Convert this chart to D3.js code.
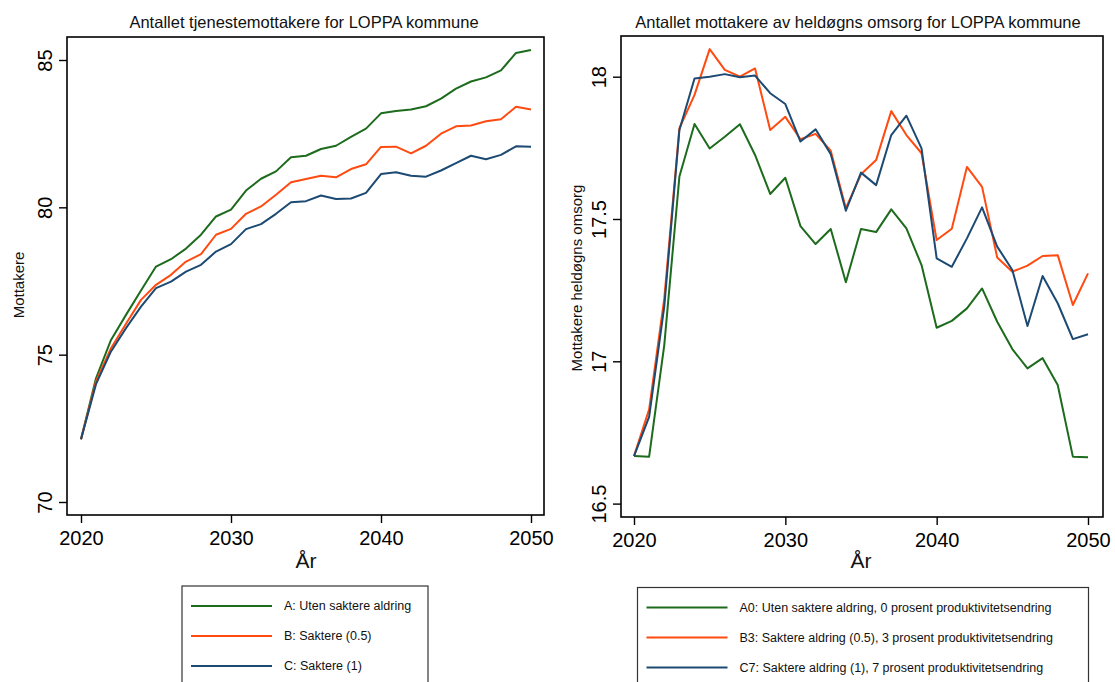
<!DOCTYPE html>
<html>
<head>
<meta charset="utf-8">
<script src="https://cdn.jsdelivr.net/npm/d3@7"></script>
<style>
  html, body { margin: 0; padding: 0; background: #fff; }
  svg { display: block; font-family: "Liberation Sans", Arial, Helvetica, sans-serif; }
</style>
</head>
<body>
<svg id="chart" width="1115" height="682"></svg>
<script>
// ---------- DATA ----------
const years = d3.range(2020, 2051);

const leftTitle = "Antallet tjenestemottakere for LOPPA kommune";
const rightTitle = "Antallet mottakere av heldøgns omsorg for LOPPA kommune";
const xTicks = [2020, 2030, 2040, 2050];
const leftYTicks = [70, 75, 80, 85];
const rightYTicks = [16.5, 17, 17.5, 18];
const rightYTickLabels = ["16.5", "17", "17.5", "18"];
const xLabel = "År";
const leftYLabel = "Mottakere";
const rightYLabel = "Mottakere heldøgns omsorg";

const leftNames = ["A: Uten saktere aldring", "B: Saktere (0.5)", "C: Saktere (1)"];
const rightNames = [
  "A0: Uten saktere aldring, 0 prosent produktivitetsendring",
  "B3: Saktere aldring (0.5), 3 prosent produktivitetsendring",
  "C7: Saktere aldring (1), 7 prosent produktivitetsendring"
];
const colors = ["#1d6b1d", "#ff4a10", "#1c4a72"];

// Left panel: tjenestemottakere
const seriesA = [72.13, 74.20, 75.50, 76.35, 77.18, 77.99, 78.24, 78.60, 79.07, 79.69, 79.92,
  80.57, 80.97, 81.22, 81.70, 81.75, 81.98, 82.09, 82.39, 82.67, 83.19,
  83.27, 83.32, 83.43, 83.69, 84.03, 84.27, 84.41, 84.65, 85.24, 85.34];
const seriesB = [72.13, 74.09, 75.22, 76.05, 76.86, 77.37, 77.71, 78.16, 78.41, 79.07, 79.27,
  79.78, 80.03, 80.43, 80.85, 80.96, 81.07, 81.02, 81.30, 81.46, 82.05,
  82.06, 81.83, 82.09, 82.50, 82.75, 82.78, 82.92, 82.99, 83.41, 83.32];
const seriesC = [72.13, 74.00, 75.11, 75.90, 76.63, 77.26, 77.48, 77.82, 78.05, 78.50, 78.75,
  79.26, 79.43, 79.78, 80.17, 80.21, 80.40, 80.28, 80.30, 80.49, 81.13,
  81.19, 81.07, 81.04, 81.25, 81.50, 81.75, 81.63, 81.78, 82.07, 82.06];

// Right panel: heldøgns omsorg
const seriesA0 = [16.667, 16.665, 17.057, 17.649, 17.834, 17.748, 17.789, 17.833, 17.725, 17.588, 17.645,
  17.475, 17.412, 17.465, 17.278, 17.465, 17.454, 17.534, 17.467, 17.338, 17.118,
  17.142, 17.186, 17.256, 17.139, 17.043, 16.975, 17.011, 16.917, 16.665, 16.663];
const seriesB3 = [16.667, 16.831, 17.220, 17.819, 17.936, 18.097, 18.024, 18.000, 18.029, 17.813, 17.859,
  17.780, 17.799, 17.740, 17.538, 17.657, 17.707, 17.879, 17.795, 17.731, 17.426,
  17.466, 17.683, 17.613, 17.365, 17.315, 17.336, 17.370, 17.373, 17.198, 17.309];
const seriesC7 = [16.667, 16.805, 17.192, 17.813, 17.994, 18.000, 18.009, 17.998, 18.004, 17.942, 17.904,
  17.772, 17.815, 17.728, 17.529, 17.663, 17.619, 17.795, 17.863, 17.748, 17.362,
  17.332, 17.432, 17.541, 17.403, 17.321, 17.124, 17.300, 17.204, 17.078, 17.095];

// ---------- DRAW ----------
const svg = d3.select("#chart");
const FONT_TICK = 20;

function panel(cfg) {
  const g = svg.append("g");
  const x = d3.scaleLinear().domain([2020, 2050]).range(cfg.xRange);
  const y = d3.scaleLinear().domain([cfg.yTicks[0], cfg.yTicks[cfg.yTicks.length - 1]]).range(cfg.yRange);
  const f = cfg.frame;

  // lines
  const line = d3.line().x((d, i) => x(years[i])).y(d => y(d));
  cfg.series.forEach((s, k) => {
    g.append("path").datum(s)
      .attr("fill", "none")
      .attr("stroke", colors[k])
      .attr("stroke-width", 2)
      .attr("stroke-linejoin", "round")
      .attr("d", line);
  });

  // frame
  g.append("rect")
    .attr("x", f.x0).attr("y", f.y0)
    .attr("width", f.x1 - f.x0).attr("height", f.y1 - f.y0)
    .attr("fill", "none").attr("stroke", "#000").attr("stroke-width", 1.6);

  // x axis
  const xa = g.append("g").attr("transform", `translate(0,${f.y1})`)
    .call(d3.axisBottom(x).tickValues(xTicks).tickFormat(d3.format("d")).tickSize(8).tickSizeOuter(0));
  xa.select(".domain").remove();
  xa.selectAll(".tick line").attr("stroke", "#000").attr("stroke-width", 1.4);
  xa.selectAll(".tick text")
    .attr("y", 30).attr("dy", 0)
    .attr("font-size", FONT_TICK).attr("fill", "#000")
    .style("font-family", "'Liberation Sans', Arial, sans-serif");

  // y axis
  const ya = g.append("g").attr("transform", `translate(${f.x0},0)`)
    .call(d3.axisLeft(y).tickValues(cfg.yTicks).tickFormat((d, i) => cfg.yTickLabels[i]).tickSize(8).tickSizeOuter(0));
  ya.select(".domain").remove();
  ya.selectAll(".tick line").attr("stroke", "#000").attr("stroke-width", 1.4);
  ya.selectAll(".tick text")
    .attr("x", null).attr("dy", null)
    .attr("text-anchor", "middle")
    .attr("transform", "translate(-15,0) rotate(-90)")
    .attr("font-size", FONT_TICK).attr("fill", "#000")
    .style("font-family", "'Liberation Sans', Arial, sans-serif");

  // titles
  g.append("text").attr("x", cfg.titleX).attr("y", 27.5)
    .attr("text-anchor", "middle").attr("font-size", 16.5).attr("fill", "#111")
    .text(cfg.title);
  g.append("text").attr("x", (cfg.xRange[0] + cfg.xRange[1]) / 2).attr("y", 568)
    .attr("text-anchor", "middle").attr("font-size", 21).attr("fill", "#111")
    .text(xLabel);
  g.append("text")
    .attr("transform", `translate(${cfg.yLabelX},${cfg.yLabelY}) rotate(-90)`)
    .attr("text-anchor", "middle").attr("font-size", 15).attr("fill", "#111")
    .text(cfg.yLabel);

  // legend
  const L = cfg.legend;
  g.append("rect").attr("x", L.x).attr("y", L.y).attr("width", L.w).attr("height", 130)
    .attr("fill", "#fff").attr("stroke", "#333").attr("stroke-width", 1.2);
  cfg.names.forEach((name, k) => {
    const yy = L.y + 20 + k * 30;
    g.append("line").attr("x1", L.x + 9).attr("x2", L.x + 90).attr("y1", yy).attr("y2", yy)
      .attr("stroke", colors[k]).attr("stroke-width", 2);
    g.append("text").attr("x", L.x + 102).attr("y", yy).attr("dy", "0.35em")
      .attr("font-size", 12.5).attr("fill", "#111").text(name);
  });
}

panel({
  xRange: [81, 531], yRange: [502, 60], yTicks: leftYTicks, yTickLabels: leftYTicks.map(String),
  frame: { x0: 67, x1: 544, y0: 37, y1: 515 },
  series: [seriesA, seriesB, seriesC],
  title: leftTitle, titleX: 304,
  yLabel: leftYLabel, yLabelX: 24, yLabelY: 285,
  legend: { x: 182, y: 586, w: 246 },
  names: leftNames
});

panel({
  xRange: [634, 1088], yRange: [503.6, 76.7], yTicks: rightYTicks, yTickLabels: rightYTickLabels,
  frame: { x0: 621, x1: 1103, y0: 36, y1: 517 },
  series: [seriesA0, seriesB3, seriesC7],
  title: rightTitle, titleX: 858,
  yLabel: rightYLabel, yLabelX: 582, yLabelY: 278,
  legend: { x: 637.5, y: 587.5, w: 451 },
  names: rightNames
});
</script>
</body>
</html>
